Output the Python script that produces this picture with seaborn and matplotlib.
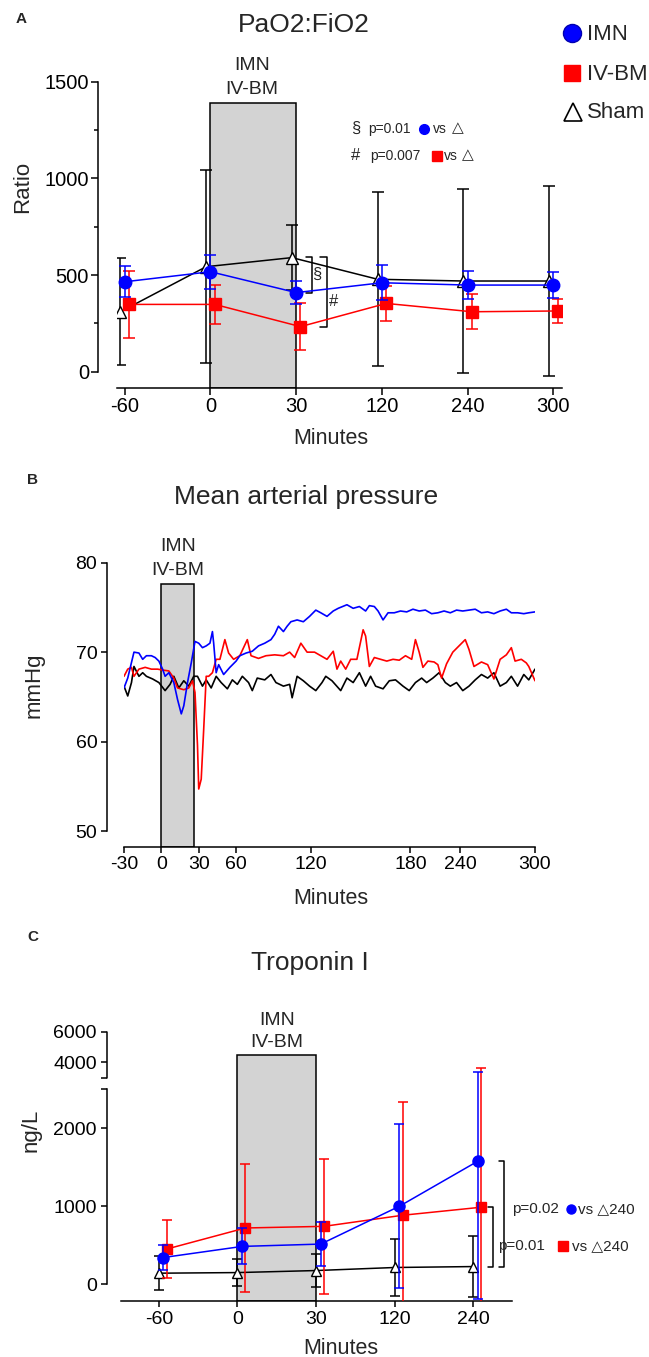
import numpy as np
import pandas as pd
import seaborn as sns
import matplotlib.pyplot as plt
from matplotlib.patches import Rectangle
from matplotlib.lines import Line2D
from matplotlib.transforms import offset_copy

# ---------------- data ----------------
# Panel A: PaO2:FiO2
time_a = ["-60", "0", "30", "120", "240", "300"]
imn_a = [465, 517, 409, 460, 448, 448]
imn_a_err = [80, 88, 60, 90, 74, 66]
ivbm_a = [348, 348, 233, 353, 310, 314]
ivbm_a_err = [175, 100, 122, 90, 90, 60]
sham_a = [310, 543, 590, 478, 469, 469]
sham_a_err = [278, 500, 170, 450, 475, 490]

# Panel B: mean arterial pressure (mmHg) traces
imn_b_min = [-30, -27, -22, -18, -15, -12, -8, -5, -2, 1, 3, 6, 10, 13, 16, 18, 21, 24, 27, 30,
             33, 36, 39, 41, 42, 44, 46, 50, 55, 60, 63, 68, 73, 78, 83, 88, 91, 94, 98, 101,
             104, 109, 114, 119, 124, 128, 133, 138, 142, 149, 154, 159, 164, 167, 171, 174,
             178, 182, 187, 192, 197, 202, 207, 212, 217, 222, 227, 232, 237, 242, 247, 252,
             257, 262, 267, 272, 277, 281, 286, 291, 295, 300]
imn_b = [66.0, 67.1, 70.0, 69.9, 69.2, 69.6, 69.6, 69.4, 69.0, 68.1, 67.3, 67.7, 66.6, 64.7,
         63.1, 64.0, 66.6, 68.8, 71.2, 71.0, 70.5, 70.7, 71.0, 72.3, 71.0, 67.7, 68.6, 67.5,
         68.3, 69.0, 69.6, 69.9, 70.1, 70.7, 71.0, 71.4, 72.0, 72.9, 72.3, 72.9, 73.4, 73.6,
         73.4, 74.0, 74.7, 74.4, 74.0, 74.6, 74.9, 75.3, 74.9, 75.1, 74.6, 75.2, 75.1, 74.6,
         73.6, 74.4, 74.4, 74.6, 74.5, 74.8, 74.6, 74.7, 74.3, 74.4, 74.6, 74.4, 74.7, 74.6,
         74.7, 74.8, 74.4, 74.5, 74.3, 74.6, 74.8, 74.4, 74.4, 74.3, 74.4, 74.5]
ivbm_b_min = [-30, -27, -24, -22, -18, -13, -8, -3, 1, 6, 10, 13, 18, 22, 25, 27, 29, 30, 32,
              34, 36, 38, 41, 44, 47, 51, 54, 58, 63, 69, 72, 78, 84, 91, 98, 103, 107, 112,
              117, 123, 128, 133, 138, 141, 144, 148, 152, 157, 162, 164, 167, 171, 176, 181,
              186, 191, 196, 201, 204, 207, 210, 214, 219, 222, 225, 229, 234, 239, 244, 247,
              251, 257, 262, 267, 272, 277, 281, 284, 289, 293, 295, 300]
ivbm_b = [67.3, 68.1, 68.3, 67.3, 68.1, 68.3, 68.1, 68.1, 68.0, 67.9, 67.1, 66.0, 65.8, 66.0,
          66.8, 65.5, 59.6, 54.7, 55.8, 61.4, 67.3, 67.3, 67.7, 69.2, 69.2, 71.4, 69.9, 69.2,
          69.6, 71.4, 69.6, 69.3, 69.6, 69.7, 69.6, 70.0, 69.4, 71.0, 70.0, 70.0, 69.6, 69.2,
          70.1, 68.1, 69.0, 68.1, 69.2, 69.2, 72.5, 71.8, 68.4, 69.4, 69.2, 69.0, 69.2, 69.1,
          69.6, 69.2, 71.4, 70.0, 68.3, 69.0, 68.9, 68.6, 67.1, 68.7, 70.0, 70.7, 71.4, 70.3,
          68.4, 68.9, 68.6, 67.0, 69.2, 69.7, 70.5, 69.0, 69.2, 68.8, 68.4, 66.8]
sham_b_min = [-30, -27, -24, -22, -18, -15, -12, -7, -2, 3, 7, 10, 14, 18, 22, 26, 29, 33, 36,
              40, 44, 48, 53, 57, 61, 65, 70, 73, 77, 83, 88, 92, 98, 103, 105, 109, 114, 119,
              124, 129, 132, 137, 144, 149, 154, 159, 164, 168, 172, 178, 183, 188, 194, 199,
              204, 209, 213, 218, 223, 228, 232, 237, 242, 247, 252, 257, 262, 267, 272, 277,
              281, 286, 291, 295, 300]
sham_b = [66.2, 65.1, 66.6, 68.4, 67.3, 67.7, 67.3, 67.0, 66.6, 65.7, 66.4, 67.3, 66.0, 66.8,
          66.2, 67.3, 67.3, 66.2, 66.9, 66.0, 67.3, 66.6, 65.9, 66.9, 66.4, 67.3, 66.6, 65.7,
          67.1, 66.9, 67.5, 66.6, 66.2, 66.4, 64.9, 67.3, 66.8, 66.2, 65.7, 66.6, 67.3, 66.8,
          65.7, 67.1, 66.6, 67.7, 66.2, 67.3, 66.2, 65.9, 66.8, 66.9, 66.2, 65.7, 66.6, 67.1,
          66.6, 67.1, 67.7, 66.6, 66.2, 66.6, 65.7, 66.2, 66.9, 67.5, 67.1, 67.7, 66.2, 66.6,
          67.3, 66.2, 67.5, 66.9, 68.1]
b_tick_labels = ["-30", "0", "30", "60", "120", "180", "240", "300"]
b_tick_pos = [-30, 0, 30, 60, 120, 200, 240, 300]

# Panel C: Troponin I
time_c = ["-60", "0", "30", "120", "240"]
imn_c = [343, 485, 515, 1000, 1579]
imn_c_err = [163, 230, 280, 1050, 1767]
ivbm_c = [451, 721, 742, 884, 987]
ivbm_c_err = [370, 825, 860, 1455, 2644]
sham_c = [142, 150, 176, 215, 227]
sham_c_err = [220, 175, 210, 360, 385]

# ---------------- style ----------------
sns.set_style("ticks")
plt.rcParams['font.family'] = ['Liberation Sans', 'DejaVu Sans']
plt.rcParams['axes.edgecolor'] = 'black'
plt.rcParams['xtick.color'] = 'black'
plt.rcParams['ytick.color'] = 'black'
plt.rcParams['axes.linewidth'] = 1.1

BLUE, RED, GREY = '#0000ff', '#ff0000', '#d3d3d3'
W, H = 649, 1357

fig = plt.figure(figsize=(W / 100, H / 100), dpi=100)


def rect(left, top, right, bottom):
    return [left / W, 1 - bottom / H, (right - left) / W, (bottom - top) / H]


def ftext(x, y, s, **kw):
    kw.setdefault('ha', 'center')
    kw.setdefault('va', 'center')
    fig.text(x / W, 1 - y / H, s, **kw)


def fmarker(x, y, **kw):
    fig.add_artist(Line2D([x / W], [1 - y / H], transform=fig.transFigure, ls='none', **kw))


def series(ax, x, y, err, color, marker, ms, face, capsize, z):
    ax.errorbar(x, y, yerr=err, fmt='none', ecolor=color, elinewidth=1.1,
                capsize=capsize, capthick=1.1, zorder=z)
    sns.lineplot(x=x, y=y, ax=ax, color=color, marker=marker, markersize=ms,
                 markerfacecolor=face, markeredgecolor=color, markeredgewidth=1,
                 linewidth=1.1, legend=False, zorder=z + 0.5)


def bracket(ax, x, y0, y1, tick):
    ax.plot([x - tick, x, x, x - tick], [y0, y0, y1, y1], color='black', lw=1.1, clip_on=False)


# ---------------- Panel A ----------------
ax = fig.add_axes(rect(117, 81.7, 562, 388.3))
xa = np.arange(len(time_a))
ax.add_patch(Rectangle((1, -86), 1, 1391 + 86, facecolor=GREY, edgecolor='black', lw=1.1, zorder=1))
series(ax, xa - 0.05, sham_a, sham_a_err, 'black', '^', 8, 'white', 4, 2)
series(ax, xa + 0.05, ivbm_a, ivbm_a_err, RED, 's', 8, RED, 4, 3)
series(ax, xa, imn_a, imn_a_err, BLUE, 'o', 9, BLUE, 4, 4)
ax.set_xlim(-0.09, 5.1)
ax.set_ylim(-86, 1500)
ax.set_xticks(xa, time_a)
ax.set_yticks([0, 500, 1000, 1500])
ax.set_yticks([250, 750, 1250], minor=True)
ax.set_xlabel('')
ax.set_ylabel('')
sns.despine(ax=ax)
ax.spines['left'].set_position(('outward', 13.7))
ax.spines['left'].set_bounds(0, 1500)
ax.tick_params(axis='both', which='major', labelsize=14.5, length=5, width=1.1, pad=1.5)
ax.tick_params(axis='y', which='minor', length=3, width=1.1)
bracket(ax, 2.18, 595, 408, 0.07)
bracket(ax, 2.36, 595, 233, 0.08)
ax.text(2.24, 502, '§', fontsize=12, ha='center', va='center')
ax.text(2.43, 362, '#', fontsize=12, ha='center', va='center')

ftext(21, 19, 'A', fontsize=11, weight='bold')
ftext(304, 25, 'PaO2:FiO2', fontsize=19)
ftext(23, 187, 'Ratio', fontsize=16, rotation=90)
ftext(331, 438, 'Minutes', fontsize=15.5)
ftext(252, 77.5, 'IMN\nIV-BM', fontsize=14, linespacing=1.5)

# significance notes
ftext(351, 128, '§', fontsize=12, ha='left')
ftext(368, 129, 'p=0.01', fontsize=10, ha='left')
fmarker(424, 129, marker='o', ms=7, color=BLUE)
ftext(433, 129, 'vs', fontsize=10, ha='left')
ftext(452, 128, '△', fontsize=11, ha='left')
ftext(351, 155, '#', fontsize=12, ha='left')
ftext(370, 156, 'p=0.007', fontsize=10, ha='left')
fmarker(437, 156, marker='s', ms=6.5, color=RED)
ftext(444, 156, 'vs', fontsize=10, ha='left')
ftext(462, 155, '△', fontsize=11, ha='left')

# legend
fmarker(572, 33, marker='o', ms=13, color=BLUE, mec='#0000b0')
fmarker(572, 73, marker='s', ms=12, color=RED)
fmarker(573, 112, marker='^', ms=13, mfc='white', mec='black', mew=1.2)
ftext(587, 34, 'IMN', fontsize=16, ha='left')
ftext(587, 74, 'IV-BM', fontsize=16, ha='left')
ftext(587, 112, 'Sham', fontsize=16, ha='left')

# ---------------- Panel B ----------------
ax = fig.add_axes(rect(124, 562.7, 535, 846.7))
map_df = pd.concat([
    pd.DataFrame({'min': imn_b_min, 'mmHg': imn_b, 'group': 'IMN'}),
    pd.DataFrame({'min': ivbm_b_min, 'mmHg': ivbm_b, 'group': 'IV-BM'}),
    pd.DataFrame({'min': sham_b_min, 'mmHg': sham_b, 'group': 'Sham'}),
])
ax.add_patch(Rectangle((0, 48.25), 26.5, 77.58 - 48.25, facecolor=GREY, edgecolor='black', lw=1.1, zorder=1))
sns.lineplot(data=map_df, x='min', y='mmHg', hue='group', ax=ax, sort=False,
             palette={'IMN': BLUE, 'IV-BM': RED, 'Sham': 'black'},
             hue_order=['Sham', 'IV-BM', 'IMN'], linewidth=1.2, legend=False, zorder=3)
ax.set_xlim(-30, 300)
ax.set_ylim(48.25, 80)
ax.set_xticks(b_tick_pos, b_tick_labels)
ax.set_yticks([50, 60, 70, 80])
ax.set_xlabel('')
ax.set_ylabel('')
sns.despine(ax=ax)
ax.spines['left'].set_position(('outward', 12.2))
ax.spines['left'].set_bounds(50, 80)
ax.tick_params(axis='both', labelsize=14, length=4, width=1.1, pad=3)

ftext(32, 480, 'B', fontsize=11, weight='bold')
ftext(306, 497, 'Mean arterial pressure', fontsize=19)
ftext(34, 685, 'mmHg', fontsize=16, rotation=90)
ftext(331, 898, 'Minutes', fontsize=15.5)
ftext(178, 558.5, 'IMN\nIV-BM', fontsize=14, linespacing=1.6)

# ---------------- Panel C ----------------
def fwd(v):
    v = np.asarray(v, dtype=float)
    return np.where(v <= 2500, v, np.where(v <= 3000, 2500 + (v - 2500) * 0.29, 2645 + (v - 3000) * 0.1965))


def inv(u):
    u = np.asarray(u, dtype=float)
    return np.where(u <= 2500, u, np.where(u <= 2645, 2500 + (u - 2500) / 0.29, 3000 + (u - 2645) / 0.1965))


ax = fig.add_axes(rect(121, 1031.7, 512, 1301))
ax.set_yscale('function', functions=(fwd, inv))
xc = np.arange(len(time_c))
ax.add_patch(Rectangle((1, -214), 1, 4501 + 214, facecolor=GREY, edgecolor='black', lw=1.1, zorder=1))
series(ax, xc, sham_c, sham_c_err, 'black', '^', 7, 'white', 3.5, 2)
series(ax, xc + 0.1, ivbm_c, ivbm_c_err, RED, 's', 7.5, RED, 3.5, 3)
series(ax, xc + 0.06, imn_c, imn_c_err, BLUE, 'o', 8, BLUE, 3.5, 4)
ax.set_xlim(-0.48, 4.49)
ax.set_ylim(-214, 6000)
ax.set_xticks(xc, time_c)
ax.set_yticks([0, 1000, 2000, 4000, 6000])
ax.set_yticks([2500, 3000], minor=True)
ax.set_xlabel('')
ax.set_ylabel('')
sns.despine(ax=ax)
ax.spines['left'].set_position(('outward', 10))
ax.spines['left'].set_bounds(0, 2500)
ax.tick_params(axis='both', which='major', labelsize=14, length=4.5, width=1.1, pad=3)
ax.tick_params(axis='y', which='minor', length=4.5, width=1.1)
tr = offset_copy(ax.get_yaxis_transform(), fig=fig, x=-10, y=0, units='points')
ax.plot([0, 0], [3000, 6000], transform=tr, color='black', lw=1.1, clip_on=False)
bracket(ax, 4.39, 1579, 215, 0.07)
bracket(ax, 4.25, 987, 215, 0.07)

ftext(33, 937, 'C', fontsize=11, weight='bold')
ftext(310, 963, 'Troponin I', fontsize=19)
ftext(31, 1130, 'ng/L', fontsize=16, rotation=90)
ftext(341, 1348, 'Minutes', fontsize=15.5)
ftext(277, 1031.5, 'IMN\nIV-BM', fontsize=14, linespacing=1.4)

ftext(512, 1209, 'p=0.02', fontsize=11, ha='left')
fmarker(571, 1209, marker='o', ms=6.5, color=BLUE)
ftext(578, 1209, 'vs △240', fontsize=11, ha='left')
ftext(498, 1246, 'p=0.01', fontsize=11, ha='left')
fmarker(563, 1246, marker='s', ms=6.5, color=RED)
ftext(572, 1246, 'vs △240', fontsize=11, ha='left')

fig.savefig('out.png', dpi=100)
